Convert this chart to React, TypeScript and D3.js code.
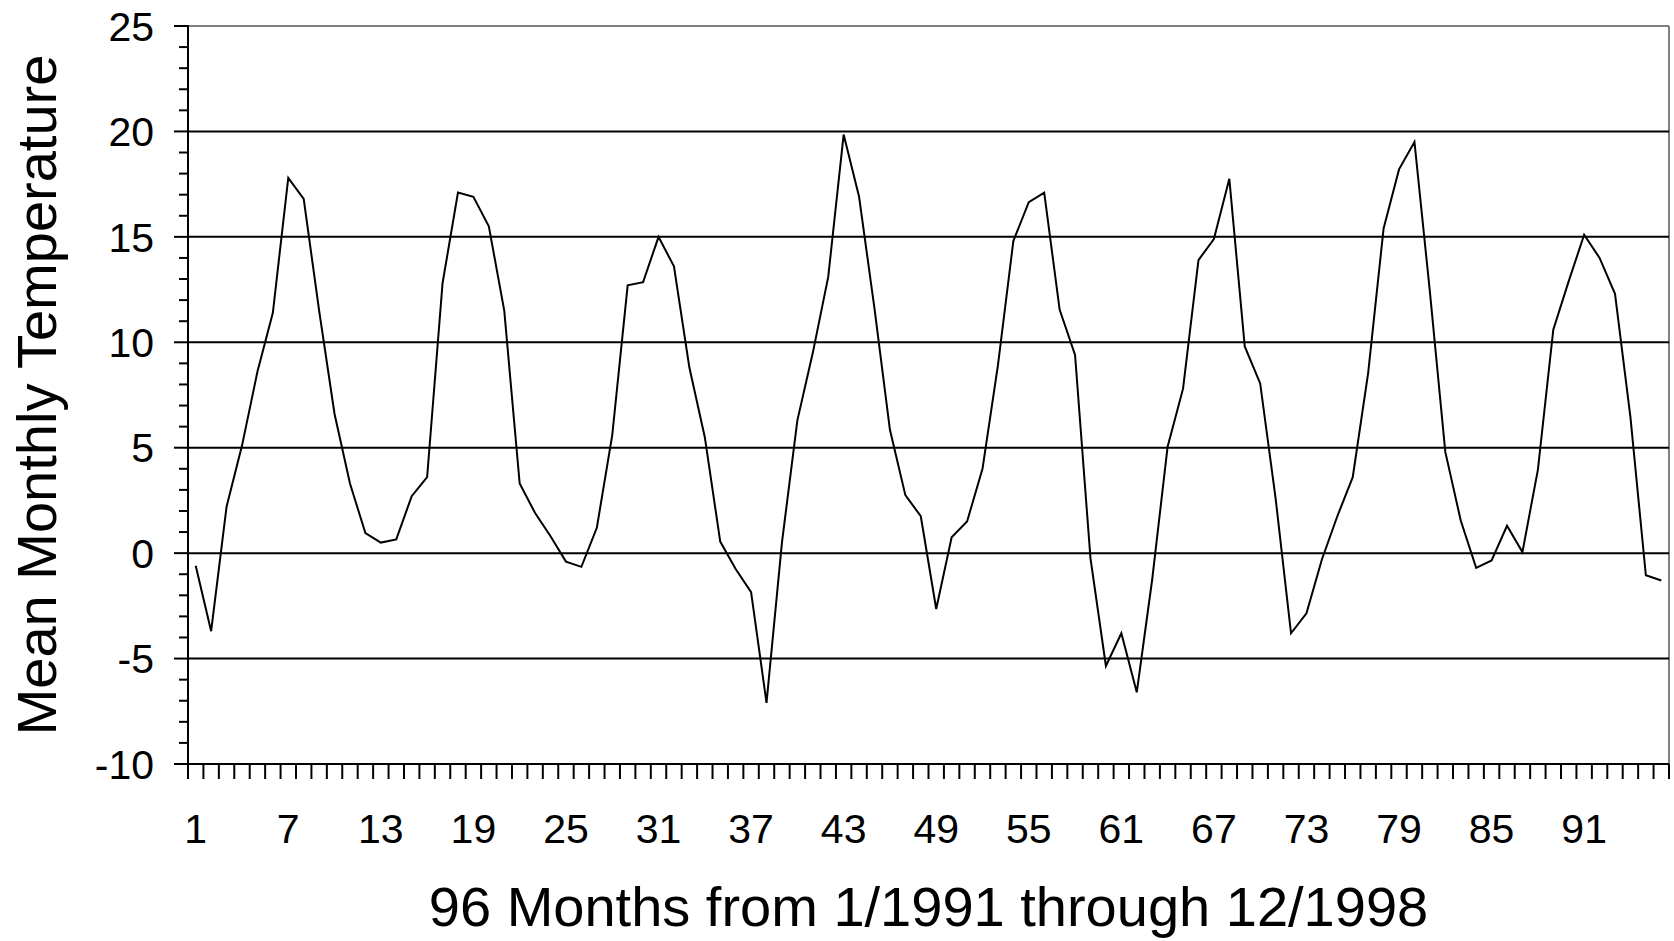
import React from 'react';
import * as d3 from 'd3';

// 96 months, Jan 1991 .. Dec 1998
const months: number[] = d3.range(1, 97);
const tickLabels: string[] = ["1", "7", "13", "19", "25", "31", "37", "43", "49", "55", "61", "67", "73", "79", "85", "91"];
const yTicks: number[] = [-10, -5, 0, 5, 10, 15, 20, 25];
const gridValues: number[] = [-5, 0, 5, 10, 15, 20];

const temps: number[] = [
	-0.6, -3.7, 2.2, 5.1, 8.6, 11.4, 17.8, 16.8, 11.5, 6.6, 3.3, 0.95,
	0.5, 0.65, 2.7, 3.6, 12.8, 17.1, 16.9, 15.5, 11.5, 3.3, 1.9, 0.8,
	-0.4, -0.65, 1.2, 5.6, 12.7, 12.85, 15.0, 13.6, 8.8, 5.5, 0.55, -0.75,
	-1.85, -7.1, 0.5, 6.3, 9.5, 13.1, 19.85, 16.9, 11.6, 5.85, 2.75, 1.75,
	-2.65, 0.75, 1.5, 4.0, 8.9, 14.8, 16.65, 17.1, 11.55, 9.4, -0.25, -5.35,
	-3.8, -6.6, -1.25, 5.05, 7.8, 13.9, 14.9, 17.75, 9.8, 8.05, 2.6, -3.8,
	-2.85, -0.3, 1.75, 3.6, 8.55, 15.4, 18.2, 19.5, 12.4, 4.8, 1.55, -0.7,
	-0.35, 1.3, 0.05, 3.95, 10.6, 12.9, 15.1, 14.0, 12.3, 6.45, -1.05, -1.3,
];

const width = 1674;
const height = 941;
const margin = { top: 26, right: 5, bottom: 177, left: 188 };
const font = "'Liberation Sans', Arial, Helvetica, sans-serif";

export default function App() {
	const x = d3.scaleBand<number>()
		.domain(months)
		.range([margin.left, width - margin.right])
		.padding(0);

	const y = d3.scaleLinear()
		.domain([-10, 25])
		.range([height - margin.bottom, margin.top]);

	const cx = (m: number) => (x(m) as number) + x.bandwidth() / 2;

	const line = d3.line<number>()
		.x((d, i) => cx(months[i]))
		.y(d => y(d));

	const x0 = margin.left;
	const x1 = width - margin.right;
	const y0 = y(-10);
	const y1 = y(25);
	const minorTicks = d3.range(-10, 26, 1).filter(v => v % 5 !== 0);
	const boundaries = months.map(m => x(m) as number).concat([x1]);

	return (
		<svg width={width} height={height} style={{ position: 'absolute', left: 0, top: 0, background: '#fff' }}>
			{/* plot border: top and right are grey */}
			<line x1={x0} x2={x1} y1={y1} y2={y1} stroke="#808080" strokeWidth={2} />
			<line x1={x1} x2={x1} y1={y1} y2={y0} stroke="#808080" strokeWidth={2} />

			{gridValues.map(v => (
				<line key={"g" + v} x1={x0} x2={x1} y1={y(v)} y2={y(v)} stroke="#000" strokeWidth={2} />
			))}

			{/* y axis */}
			<line x1={x0} x2={x0} y1={y1 - 1} y2={y0 + 1} stroke="#000" strokeWidth={2} />
			{yTicks.map(v => (
				<g key={"y" + v}>
					<line x1={x0 - 14} x2={x0} y1={y(v)} y2={y(v)} stroke="#000" strokeWidth={2} />
					<text x={154} y={y(v)} dy="0.36em" textAnchor="end" fontSize={41} fontFamily={font} fill="#000">{v}</text>
				</g>
			))}
			{minorTicks.map(v => (
				<line key={"m" + v} x1={x0 - 9} x2={x0} y1={y(v)} y2={y(v)} stroke="#000" strokeWidth={2} />
			))}

			{/* x axis */}
			<line x1={x0} x2={x1} y1={y0} y2={y0} stroke="#000" strokeWidth={2} />
			{boundaries.map((b, i) => (
				<line key={"xt" + i} x1={b} x2={b} y1={y0} y2={y0 + 15} stroke="#000" strokeWidth={2} />
			))}
			{tickLabels.map(t => (
				<text key={"xl" + t} x={cx(+t)} y={843} textAnchor="middle" fontSize={41} fontFamily={font} fill="#000">{t}</text>
			))}

			<path d={line(temps) as string} fill="none" stroke="#000" strokeWidth={2} strokeLinejoin="miter" />

			<text x={(x0 + x1) / 2} y={926} textAnchor="middle" fontSize={56} fontFamily={font} fill="#000">
				96 Months from 1/1991 through 12/1998
			</text>
			<text transform={`translate(56, ${(y0 + y1) / 2}) rotate(-90)`} textAnchor="middle" fontSize={56} fontFamily={font} fill="#000">
				Mean Monthly Temperature
			</text>
		</svg>
	);
}
